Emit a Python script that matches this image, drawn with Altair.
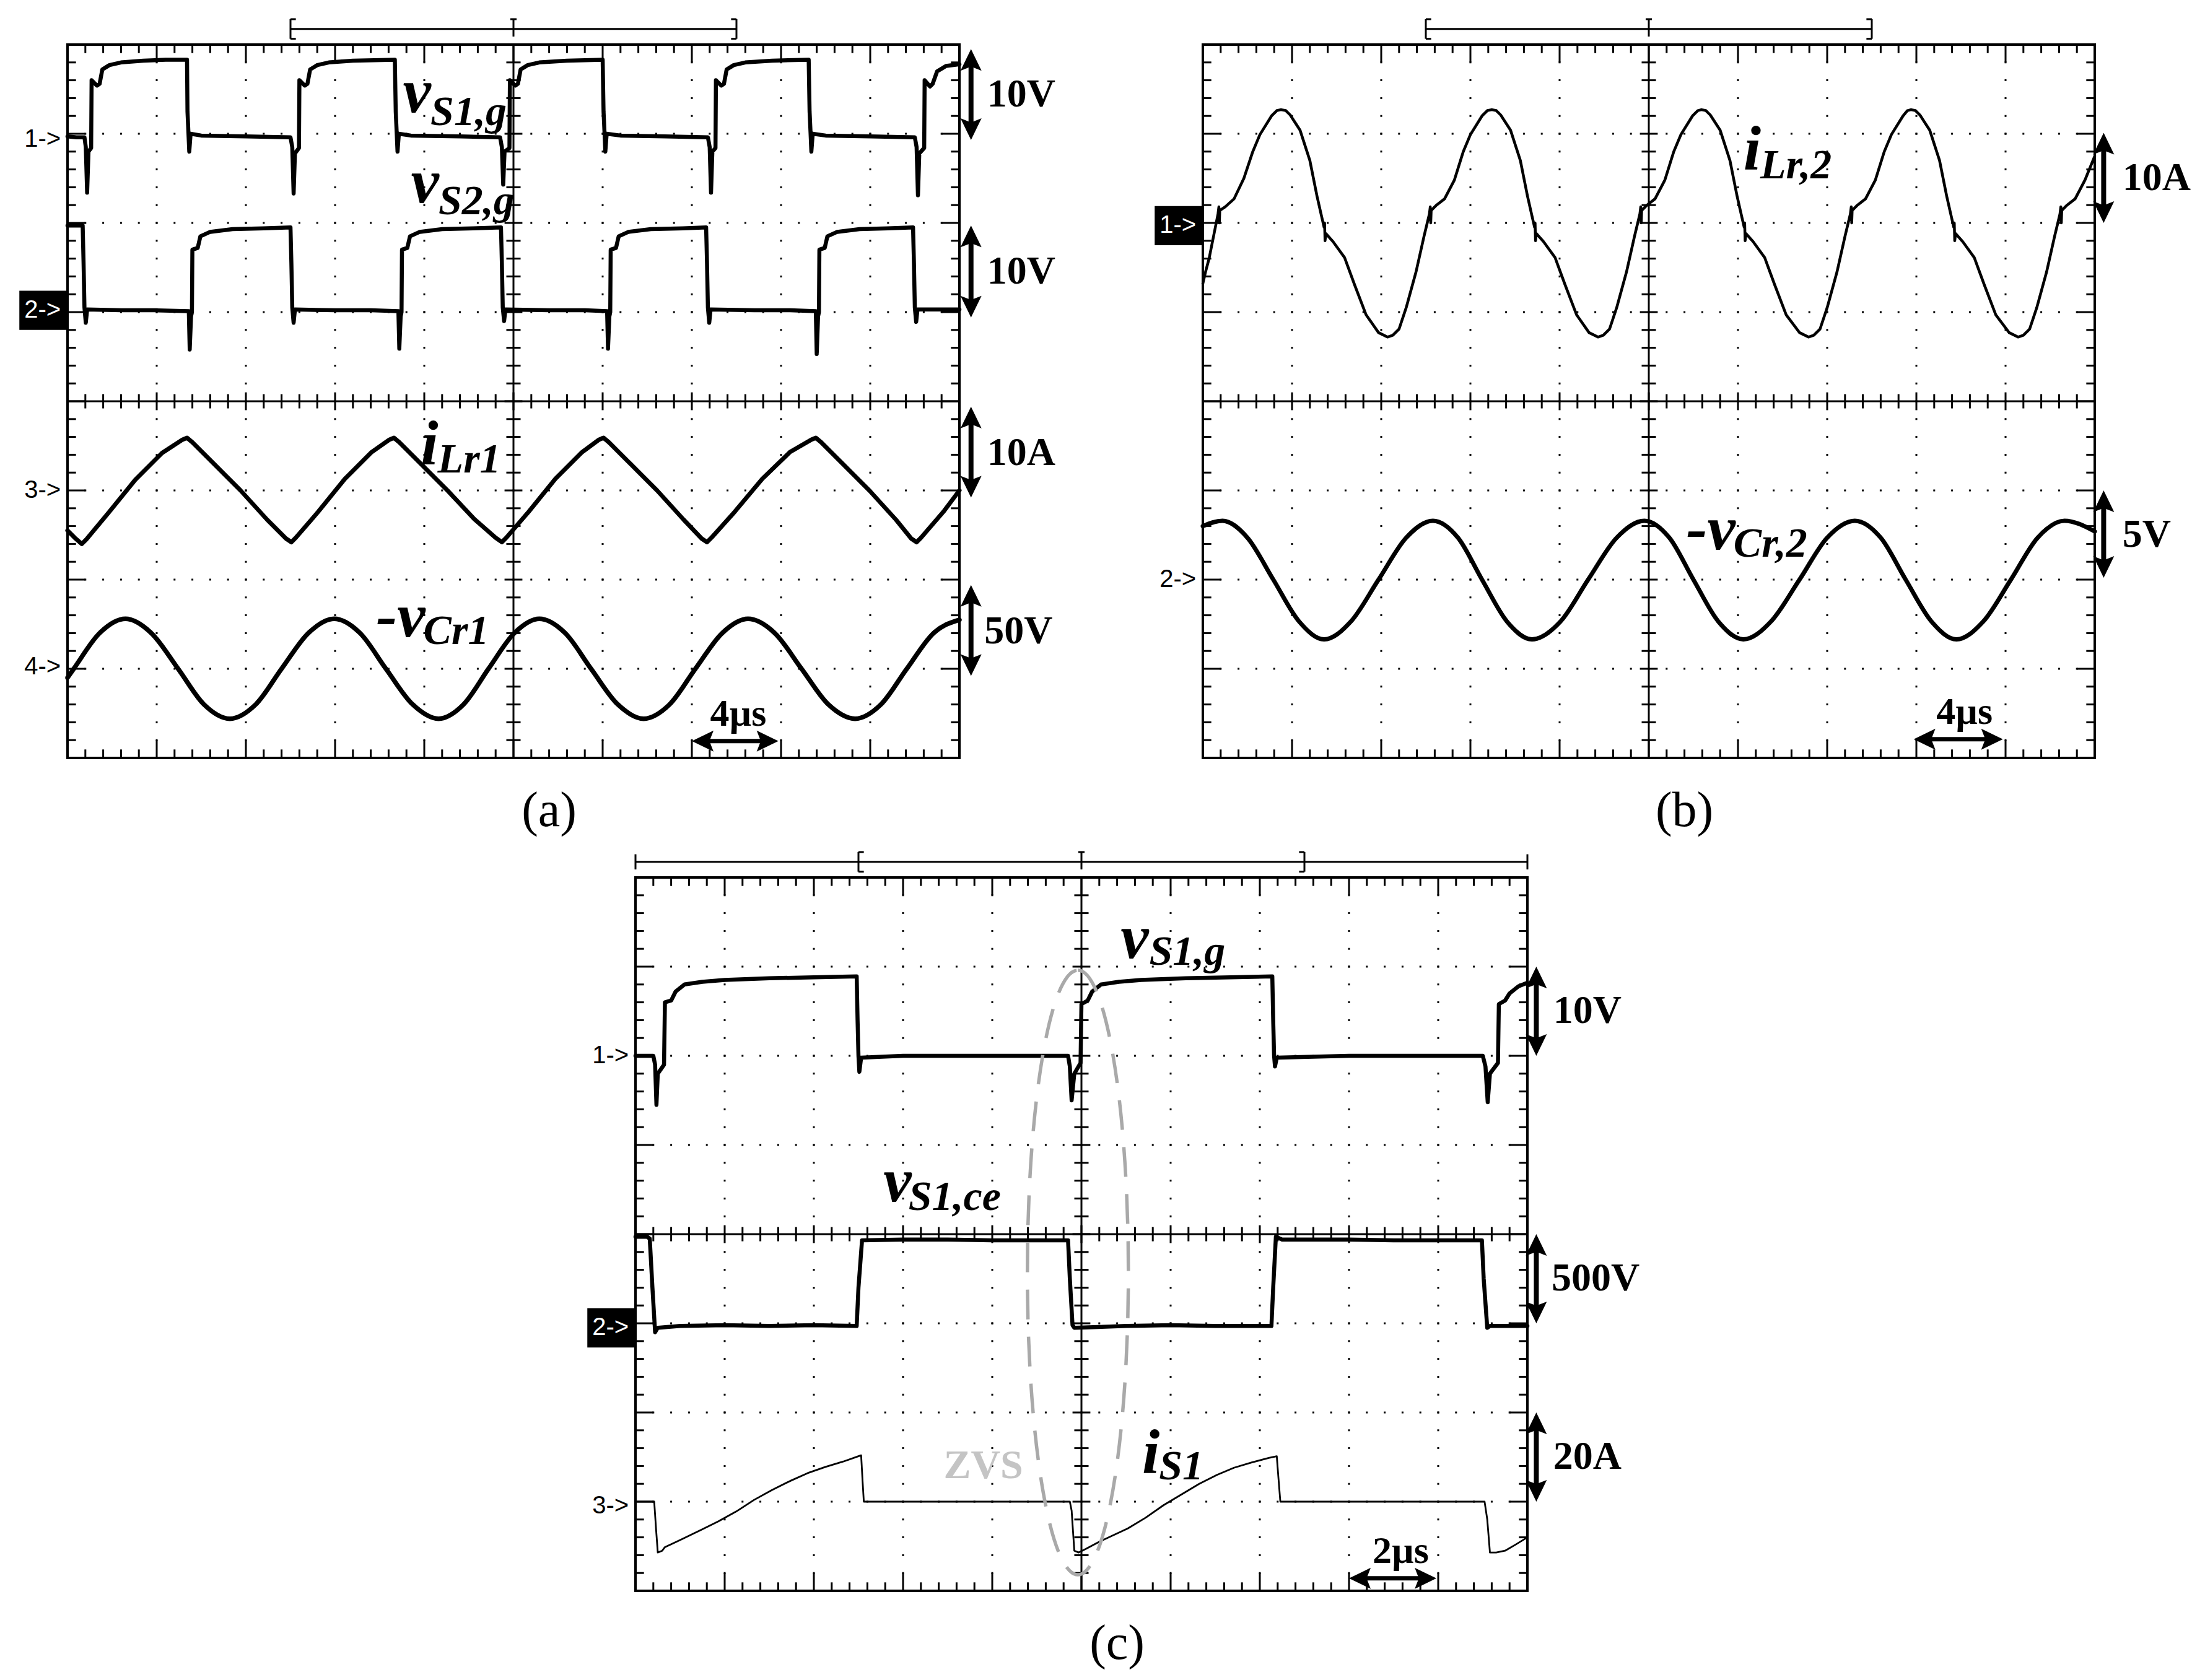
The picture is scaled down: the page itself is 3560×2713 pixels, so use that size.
import altair as alt
import pandas as pd

# ------------------------------------------------------------------ layout
W, H = 3540, 2688          # drawing area in px
DIV = 144.0                # one oscilloscope division in px
ORIGIN_PX = {"a": (101, 64), "b": (1934, 64), "c": (1018, 1409)}
ORIGIN = {k: (x / DIV, y / DIV) for k, (x, y) in ORIGIN_PX.items()}

# ------------------------------------------------------------------ data
# time t in divisions (0..10 from left), level v in divisions (0..8 from top)

# (a) v_S1,g
a_vs1_t = [0.00, 0.10, 0.19, 0.205, 0.22, 0.235, 0.265, 0.27, 0.33, 0.36, 0.39, 0.47, 0.60, 0.85, 1.10, 1.34,
           1.345, 1.355, 1.365, 1.38, 1.50, 2.00, 2.50, 2.52, 2.535, 2.55, 2.595, 2.60, 2.66, 2.69, 2.72, 2.80,
           2.93, 3.20, 3.67, 3.68, 3.69, 3.70, 3.715, 3.85, 4.40, 4.85, 4.87, 4.885, 4.90, 4.955, 4.96, 5.02,
           5.05, 5.08, 5.16, 5.29, 5.60, 6.00, 6.01, 6.02, 6.03, 6.045, 6.20, 6.70, 7.18, 7.20, 7.215, 7.23,
           7.265, 7.27, 7.33, 7.36, 7.39, 7.47, 7.60, 7.90, 8.31, 8.32, 8.33, 8.34, 8.355, 8.50, 9.00, 9.50,
           9.52, 9.535, 9.55, 9.605, 9.61, 9.67, 9.70, 9.75, 9.85, 10.00]
a_vs1_v = [1.03, 1.04, 1.04, 1.15, 1.66, 1.20, 1.16, 0.40, 0.46, 0.44, 0.28, 0.23, 0.20, 0.18, 0.17, 0.17,
           0.75, 0.97, 1.20, 1.00, 1.02, 1.03, 1.04, 1.15, 1.67, 1.22, 1.16, 0.40, 0.46, 0.44, 0.28, 0.23,
           0.20, 0.18, 0.17, 0.75, 0.97, 1.20, 1.00, 1.02, 1.03, 1.04, 1.15, 1.57, 1.20, 1.16, 0.40, 0.46,
           0.44, 0.28, 0.23, 0.20, 0.18, 0.17, 0.75, 0.97, 1.20, 1.00, 1.02, 1.03, 1.04, 1.15, 1.66, 1.20,
           1.16, 0.40, 0.46, 0.44, 0.28, 0.23, 0.20, 0.18, 0.17, 0.75, 0.97, 1.20, 1.00, 1.02, 1.03, 1.04,
           1.15, 1.69, 1.22, 1.16, 0.40, 0.47, 0.44, 0.30, 0.24, 0.22]

# (a) v_S2,g
a_vs2_t = [0.00, 0.17, 0.18, 0.19, 0.205, 0.22, 0.60, 1.00, 1.36, 1.37, 1.385, 1.395, 1.40, 1.46, 1.49, 1.60,
           1.85, 2.20, 2.50, 2.51, 2.52, 2.535, 2.55, 3.00, 3.40, 3.71, 3.72, 3.735, 3.745, 3.75, 3.81, 3.84,
           3.95, 4.20, 4.55, 4.86, 4.87, 4.88, 4.895, 4.91, 5.40, 5.80, 6.05, 6.06, 6.075, 6.085, 6.09, 6.15,
           6.18, 6.29, 6.54, 6.90, 7.16, 7.17, 7.18, 7.195, 7.21, 7.70, 8.10, 8.39, 8.40, 8.415, 8.425, 8.43,
           8.49, 8.52, 8.63, 8.88, 9.20, 9.48, 9.49, 9.50, 9.515, 9.53, 9.80, 10.00]
a_vs2_v = [2.03, 2.03, 2.45, 2.95, 3.12, 2.97, 2.98, 2.98, 2.99, 3.42, 3.05, 3.00, 2.30, 2.28, 2.15, 2.10,
           2.07, 2.06, 2.05, 2.45, 2.95, 3.12, 2.97, 2.98, 2.98, 2.99, 3.41, 3.05, 3.00, 2.30, 2.28, 2.15,
           2.10, 2.07, 2.06, 2.05, 2.45, 2.95, 3.10, 2.97, 2.98, 2.98, 2.99, 3.41, 3.05, 3.00, 2.30, 2.28,
           2.15, 2.10, 2.07, 2.06, 2.05, 2.45, 2.95, 3.12, 2.97, 2.98, 2.98, 2.99, 3.47, 3.05, 3.00, 2.30,
           2.28, 2.15, 2.10, 2.07, 2.06, 2.05, 2.45, 2.95, 3.11, 2.97, 2.97, 2.97]

# (a) i_Lr1
a_ilr_t = [0.00, 0.08, 0.16, 0.21, 0.46, 0.76, 1.06, 1.29, 1.34, 1.40, 1.64, 1.94, 2.24, 2.45, 2.51, 2.56,
           2.81, 3.11, 3.41, 3.61, 3.66, 3.72, 3.96, 4.26, 4.56, 4.80, 4.87, 4.92, 5.17, 5.47, 5.77, 5.96,
           6.01, 6.07, 6.31, 6.61, 6.91, 7.11, 7.17, 7.22, 7.48, 7.79, 8.10, 8.34, 8.39, 8.45, 8.69, 8.99,
           9.29, 9.46, 9.52, 9.57, 9.82, 10.00]
a_ilr_v = [5.45, 5.53, 5.60, 5.55, 5.25, 4.88, 4.58, 4.43, 4.41, 4.46, 4.70, 5.00, 5.33, 5.54, 5.58, 5.53,
           5.24, 4.87, 4.57, 4.43, 4.41, 4.46, 4.70, 5.00, 5.32, 5.53, 5.58, 5.53, 5.24, 4.87, 4.57, 4.43,
           4.41, 4.46, 4.70, 5.00, 5.33, 5.54, 5.58, 5.53, 5.24, 4.87, 4.57, 4.43, 4.41, 4.46, 4.70, 5.00,
           5.33, 5.54, 5.58, 5.53, 5.24, 5.00]

# (a) -v_Cr1
a_vcr_t = [0.00, 0.07, 0.36, 0.65, 0.94, 1.24, 1.53, 1.82, 2.11, 2.40, 2.70, 2.99, 3.28, 3.57, 3.87, 4.16,
           4.44, 4.72, 5.01, 5.29, 5.58, 5.87, 6.17, 6.46, 6.75, 7.04, 7.34, 7.63, 7.93, 8.23, 8.53, 8.83,
           9.12, 9.41, 9.71, 10.00]
a_vcr_v = [7.10, 7.00, 6.60, 6.44, 6.60, 7.00, 7.40, 7.56, 7.40, 7.00, 6.60, 6.44, 6.60, 7.00, 7.40, 7.56,
           7.40, 7.00, 6.60, 6.44, 6.60, 7.00, 7.40, 7.56, 7.40, 7.00, 6.60, 6.44, 6.60, 7.00, 7.40, 7.56,
           7.40, 7.00, 6.60, 6.45]

# (b) i_Lr,2
b_ilr_t = [0.00, 0.03, 0.07, 0.12, 0.17, 0.18, 0.185, 0.19, 0.25, 0.35, 0.46, 0.56, 0.64, 0.77, 0.83, 0.876,
           0.93, 0.98, 1.09, 1.20, 1.28, 1.33, 1.36, 1.365, 1.37, 1.38, 1.46, 1.59, 1.70, 1.83, 1.97, 2.07,
           2.13, 2.20, 2.28, 2.39, 2.48, 2.54, 2.55, 2.555, 2.56, 2.62, 2.71, 2.82, 2.92, 3.00, 3.13, 3.19, 3.24,
           3.29, 3.34, 3.45, 3.56, 3.64, 3.69, 3.72, 3.725, 3.73, 3.74, 3.82, 3.95, 4.06, 4.19, 4.33, 4.43,
           4.49, 4.56, 4.64, 4.75, 4.84, 4.90, 4.91, 4.915, 4.92, 4.98, 5.07, 5.18, 5.28, 5.36, 5.49, 5.55, 5.59,
           5.64, 5.69, 5.80, 5.91, 5.99, 6.04, 6.07, 6.075, 6.08, 6.09, 6.17, 6.30, 6.41, 6.54, 6.69, 6.79,
           6.85, 6.92, 7.00, 7.11, 7.20, 7.26, 7.27, 7.275, 7.28, 7.34, 7.43, 7.54, 7.64, 7.72, 7.85, 7.90, 7.94,
           7.99, 8.04, 8.15, 8.26, 8.34, 8.39, 8.42, 8.425, 8.43, 8.44, 8.52, 8.65, 8.76, 8.89, 9.04, 9.14,
           9.20, 9.27, 9.35, 9.46, 9.55, 9.61, 9.62, 9.625, 9.63, 9.69, 9.78, 9.89, 10.00]
b_ilr_v = [2.68, 2.55, 2.40, 2.15, 1.90, 1.82, 2.00, 1.86, 1.82, 1.73, 1.50, 1.20, 1.01, 0.80, 0.74, 0.73,
           0.74, 0.79, 0.96, 1.30, 1.70, 1.92, 2.05, 2.00, 2.20, 2.12, 2.21, 2.39, 2.69, 3.03, 3.23, 3.28,
           3.26, 3.19, 2.95, 2.55, 2.15, 1.90, 1.82, 2.00, 1.86, 1.80, 1.73, 1.52, 1.20, 1.01, 0.80, 0.74, 0.73,
           0.74, 0.79, 0.96, 1.30, 1.70, 1.92, 2.05, 2.00, 2.20, 2.12, 2.21, 2.39, 2.69, 3.03, 3.23, 3.28,
           3.26, 3.19, 2.95, 2.55, 2.15, 1.90, 1.82, 2.00, 1.86, 1.80, 1.73, 1.52, 1.20, 1.01, 0.80, 0.74, 0.73,
           0.74, 0.79, 0.96, 1.30, 1.70, 1.92, 2.05, 2.00, 2.20, 2.12, 2.21, 2.39, 2.69, 3.03, 3.23, 3.28,
           3.26, 3.19, 2.95, 2.55, 2.15, 1.90, 1.82, 2.00, 1.86, 1.80, 1.73, 1.52, 1.20, 1.01, 0.80, 0.74, 0.73,
           0.74, 0.79, 0.96, 1.30, 1.70, 1.92, 2.05, 2.00, 2.20, 2.12, 2.21, 2.39, 2.69, 3.03, 3.23, 3.28,
           3.26, 3.19, 2.95, 2.55, 2.15, 1.90, 1.82, 2.00, 1.86, 1.80, 1.73, 1.52, 1.25]

# (b) -v_Cr,2
b_vcr_t = [0.00, 0.22, 0.50, 0.79, 1.08, 1.36, 1.66, 1.97, 2.28, 2.58, 2.86, 3.13, 3.41, 3.69, 4.01, 4.32,
           4.64, 4.95, 5.23, 5.50, 5.78, 6.06, 6.37, 6.69, 7.00, 7.31, 7.60, 7.88, 8.17, 8.45, 8.75, 9.06,
           9.36, 9.66, 10.00]
b_vcr_v = [5.40, 5.34, 5.53, 6.00, 6.47, 6.67, 6.47, 6.00, 5.53, 5.34, 5.53, 6.00, 6.47, 6.67, 6.47, 6.00,
           5.53, 5.34, 5.53, 6.00, 6.47, 6.67, 6.47, 6.00, 5.53, 5.34, 5.53, 6.00, 6.47, 6.67, 6.47, 6.00,
           5.53, 5.34, 5.46]

# (c) v_S1,g
c_vsg_t = [0.00, 0.20, 0.22, 0.235, 0.25, 0.32, 0.33, 0.40, 0.45, 0.55, 0.75, 1.00, 1.50, 2.00, 2.48, 2.49,
           2.50, 2.51, 2.53, 3.00, 3.50, 4.00, 4.85, 4.87, 4.89, 4.92, 4.99, 5.00, 5.07, 5.12, 5.22, 5.42,
           5.67, 6.17, 6.67, 7.14, 7.15, 7.16, 7.17, 7.19, 8.00, 9.00, 9.50, 9.53, 9.555, 9.58, 9.67, 9.68,
           9.75, 9.80, 9.90, 10.00]
c_vsg_v = [2.00, 2.00, 2.10, 2.55, 2.20, 2.10, 1.40, 1.38, 1.28, 1.20, 1.17, 1.15, 1.13, 1.12, 1.11, 1.60,
           2.00, 2.18, 2.02, 2.00, 2.00, 2.00, 2.00, 2.12, 2.50, 2.20, 2.08, 1.42, 1.38, 1.28, 1.20, 1.17,
           1.15, 1.13, 1.12, 1.11, 1.60, 2.00, 2.12, 2.02, 2.00, 2.00, 2.00, 2.12, 2.52, 2.20, 2.08, 1.42,
           1.38, 1.30, 1.22, 1.18]

# (c) v_S1,ce
c_vce_t = [0.00, 0.13, 0.16, 0.19, 0.22, 0.25, 0.50, 1.00, 1.50, 2.00, 2.48, 2.50, 2.54, 3.00, 3.50, 4.00,
           4.85, 4.87, 4.90, 4.92, 5.50, 6.00, 6.50, 7.13, 7.15, 7.18, 7.25, 8.00, 8.50, 9.49, 9.51, 9.55,
           9.58, 10.00]
c_vce_v = [4.03, 4.03, 4.05, 4.60, 5.10, 5.05, 5.03, 5.02, 5.03, 5.02, 5.03, 4.60, 4.07, 4.06, 4.06, 4.07,
           4.07, 4.50, 5.02, 5.05, 5.03, 5.02, 5.03, 5.03, 4.60, 4.03, 4.06, 4.06, 4.07, 4.07, 4.50, 5.05,
           5.03, 5.03]

# (c) i_S1
c_is_t = [0.00, 0.21, 0.23, 0.25, 0.30, 0.33, 0.50, 0.73, 0.93, 1.13, 1.33, 1.53, 1.73, 1.93, 2.13, 2.33,
          2.50, 2.53, 2.545, 2.56, 3.00, 3.50, 4.00, 4.50, 4.87, 4.89, 4.92, 4.97, 5.05, 5.20, 5.52, 5.72,
          5.92, 6.12, 6.32, 6.52, 6.71, 6.91, 7.10, 7.19, 7.21, 7.23, 7.60, 8.00, 8.50, 9.00, 9.52, 9.55,
          9.58, 9.65, 9.75, 9.87, 10.00]
c_is_v = [7.00, 7.00, 7.30, 7.57, 7.55, 7.51, 7.43, 7.32, 7.22, 7.11, 6.98, 6.87, 6.77, 6.68, 6.61, 6.55,
          6.49, 6.48, 6.75, 7.00, 7.00, 7.00, 7.00, 7.00, 7.00, 7.10, 7.55, 7.57, 7.53, 7.45, 7.30, 7.18,
          7.04, 6.92, 6.80, 6.70, 6.62, 6.56, 6.51, 6.49, 6.75, 7.00, 7.00, 7.00, 7.00, 7.00, 7.00, 7.20,
          7.57, 7.57, 7.55, 7.48, 7.40]

# trace catalogue: panel, name, t, v, stroke width, smooth?
TRACES = [
    ("a", "vS1g", a_vs1_t, a_vs1_v, 6.5, False),
    ("a", "vS2g", a_vs2_t, a_vs2_v, 6.5, False),
    ("a", "iLr1", a_ilr_t, a_ilr_v, 7.0, False),
    ("a", "vCr1", a_vcr_t, a_vcr_v, 7.5, True),
    ("b", "iLr2", b_ilr_t, b_ilr_v, 4.5, False),
    ("b", "vCr2", b_vcr_t, b_vcr_v, 7.0, True),
    ("c", "vS1g", c_vsg_t, c_vsg_v, 6.5, False),
    ("c", "vS1ce", c_vce_t, c_vce_v, 6.5, False),
    ("c", "iS1", c_is_t, c_is_v, 2.8, False),
]

# labels (panel, text, t_left, v_baseline)
MATH_MAIN = [("a", "v", 3.76, 0.76), ("a", "v", 3.85, 1.77), ("a", "i", 3.96, 4.71), ("a", "-v", 3.46, 6.64),
             ("b", "i", 6.06, 1.40), ("b", "-v", 5.42, 5.66),
             ("c", "v", 5.44, 0.90), ("c", "v", 2.78, 3.63), ("c", "i", 5.68, 6.68)]
MATH_SUB = [("a", "S1,g", 4.07, 0.90), ("a", "S2,g", 4.16, 1.90), ("a", "Lr1", 4.15, 4.80), ("a", "Cr1", 3.99, 6.72),
            ("b", "Lr,2", 6.25, 1.50), ("b", "Cr,2", 5.95, 5.74),
            ("c", "S1,g", 5.76, 0.98), ("c", "S1,ce", 3.06, 3.73), ("c", "S1", 5.87, 6.75)]
UNITS = [("a", "10V", 10.31, 0.56), ("a", "10V", 10.31, 2.55), ("a", "10A", 10.31, 4.58), ("a", "50V", 10.28, 6.58),
         ("b", "10A", 10.31, 1.50), ("b", "5V", 10.31, 5.50),
         ("c", "10V", 10.29, 1.50), ("c", "500V", 10.27, 4.50), ("c", "20A", 10.29, 6.50)]
TIME_TXT = [("a", "4µs", 7.52, 7.64), ("b", "4µs", 8.54, 7.62), ("c", "2µs", 8.58, 7.69)]
PANEL_TXT = [("a", "(a)", 5.4, 8.6), ("b", "(b)", 5.4, 8.6), ("c", "(c)", 5.4, 8.6)]
MARK_PLAIN = [("a", "1->", -0.075, 1.06), ("a", "3->", -0.075, 5.0), ("a", "4->", -0.075, 6.98),
              ("b", "2->", -0.075, 6.0), ("c", "1->", -0.075, 2.0), ("c", "3->", -0.075, 7.05)]
MARK_BOX = [("a", "2->", -0.075, 2.98), ("b", "1->", -0.075, 2.03), ("c", "2->", -0.075, 5.05)]
ZVS_TXT = [("c", "ZVS", 3.9, 6.6)]

# scale arrows: vertical (panel, t, v_top, v_bottom), horizontal (panel, v, t_left, t_right)
V_ARROWS = [("a", 10.13, 0.05, 1.07), ("a", 10.13, 2.03, 3.06), ("a", 10.13, 4.06, 5.08), ("a", 10.13, 6.06, 7.08),
            ("b", 10.10, 0.99, 2.00), ("b", 10.10, 5.00, 5.98),
            ("c", 10.10, 1.00, 2.00), ("c", 10.10, 4.00, 5.00), ("c", 10.10, 6.00, 7.00)]
H_ARROWS = [("a", 7.81, 7.00, 7.97), ("b", 7.79, 7.97, 8.97), ("c", 7.86, 8.00, 8.98)]

# ZVS ellipse centre (panel c, divisions) and half-height
ELL = [("c", 4.96, 4.43)]
ELL_HALF_H = 3.39

# ------------------------------------------------------------------ tables
def gxy(p, t, v):
    ox, oy = ORIGIN[p]
    return ox + t, oy + v


rows = []
for p, name, ts, vs, sw, smooth in TRACES:
    for i, (t, v) in enumerate(zip(ts, vs)):
        gx, gy = gxy(p, t, v)
        rows.append({"name": p + name, "i": i, "gx": gx, "gy": gy, "sw": sw, "smooth": smooth})
trace_df = pd.DataFrame(rows)


def text_df(items):
    out = []
    for p, txt, t, v in items:
        gx, gy = gxy(p, t, v)
        out.append({"gx": gx, "gy": gy, "txt": txt})
    return pd.DataFrame(out)


solid, dotted, frames, boxes, heads = [], [], [], [], []


def seg(lst, p, t1, v1, t2, v2, sw=3.0):
    x1, y1 = gxy(p, t1, v1)
    x2, y2 = gxy(p, t2, v2)
    lst.append({"gx": x1, "gy": y1, "gx2": x2, "gy2": y2, "sw": sw})


for p in ["a", "b", "c"]:
    seg(frames, p, 0, 0, 10, 8)
    for j in range(1, 10):
        if j != 5:
            seg(dotted, p, j, 0, j, 8)
    for j in range(1, 8):
        if j != 4:
            seg(dotted, p, 0, j, 10, j)
    seg(solid, p, 5, 0, 5, 8)
    seg(solid, p, 0, 4, 10, 4)
    for k in range(1, 50):
        t = k * 0.2
        major = k % 5 == 0
        L = 0.2 if major else 0.095
        h = 0.1 if major else 0.08
        seg(solid, p, t, 0, t, L)
        seg(solid, p, t, 8, t, 8 - L)
        seg(solid, p, t, 4 - h, t, 4 + h)
    for k in range(1, 40):
        v = k * 0.2
        major = k % 5 == 0
        L = 0.2 if major else 0.095
        h = 0.1 if major else 0.08
        seg(solid, p, 0, v, L, v)
        seg(solid, p, 10, v, 10 - L, v)
        seg(solid, p, 5 - h, v, 5 + h, v)
    # trigger / memory bracket above the screen
    yl = -0.175
    if p == "c":
        seg(solid, p, 0, yl, 10, yl)
        seg(solid, p, 0, -0.26, 0, -0.09)
        seg(solid, p, 10, -0.26, 10, -0.09)
    else:
        seg(solid, p, 2.5, yl, 7.5, yl)
    seg(solid, p, 2.5, -0.285, 2.5, -0.065)
    seg(solid, p, 2.5, -0.285, 2.56, -0.285)
    seg(solid, p, 2.5, -0.065, 2.56, -0.065)
    seg(solid, p, 7.5, -0.285, 7.5, -0.065)
    seg(solid, p, 7.44, -0.285, 7.5, -0.285)
    seg(solid, p, 7.44, -0.065, 7.5, -0.065)
    seg(solid, p, 5.0, -0.285, 5.0, -0.09)
    seg(solid, p, 4.965, -0.285, 5.035, -0.285)

HEAD_R = 20.0 / DIV   # tip-to-centre distance of the arrow head symbol
for p, t, v1, v2 in V_ARROWS:
    seg(solid, p, t, v1 + 0.12, t, v2 - 0.12, 8.0)
    for v, ang in [(v1 + HEAD_R, 0), (v2 - HEAD_R, 180)]:
        gx, gy = gxy(p, t, v)
        heads.append({"gx": gx, "gy": gy, "ang": ang})
for p, v, t1, t2 in H_ARROWS:
    seg(solid, p, t1 + 0.12, v, t2 - 0.12, v, 7.0)
    for t, ang in [(t1 + HEAD_R, 270), (t2 - HEAD_R, 90)]:
        gx, gy = gxy(p, t, v)
        heads.append({"gx": gx, "gy": gy, "ang": ang})

for p, txt, t, v in MARK_BOX:
    seg(boxes, p, -0.54, v - 0.22, 0.0, v + 0.22)

ell_rows = []
for p, t, v in ELL:
    gx, gy = gxy(p, t, v)
    ell_rows.append({"gx": gx, "gy": gy})

solid_df = pd.DataFrame(solid)
dotted_df = pd.DataFrame(dotted)
frame_df = pd.DataFrame(frames)
box_df = pd.DataFrame(boxes)
head_df = pd.DataFrame(heads)
ell_df = pd.DataFrame(ell_rows)

# ------------------------------------------------------------------ chart
xs = alt.Scale(domain=[0, W / DIV], nice=False, zero=False)
ys = alt.Scale(domain=[0, H / DIV], nice=False, zero=False, reverse=True)
X = alt.X("gx:Q", scale=xs, axis=None)
Y = alt.Y("gy:Q", scale=ys, axis=None)
SERIF = "Liberation Serif, Times New Roman, serif"
SANS = "Liberation Sans, Arial, sans-serif"

HEAD_PATH = "M0,-1L0.85,0.75L0,0.42L-0.85,0.75Z"
ELL_PATH = ("M0,-1C0.0922,-1,0.167,-0.5523,0.167,0C0.167,0.5523,0.0922,1,0,1"
            "C-0.0922,1,-0.167,0.5523,-0.167,0C-0.167,-0.5523,-0.0922,-1,0,-1Z")
ell_size = (2 * ELL_HALF_H * DIV) ** 2

dotted_layer = alt.Chart(dotted_df).mark_rule(
    color="black", strokeWidth=3, strokeDash=[3, 25.8], strokeDashOffset=1.5
).encode(x=X, y=Y, x2="gx2:Q", y2="gy2:Q")

solid_layer = alt.Chart(solid_df).mark_rule(color="black").encode(
    x=X, y=Y, x2="gx2:Q", y2="gy2:Q", strokeWidth=alt.StrokeWidth("sw:Q", scale=None)
)

frame_layer = alt.Chart(frame_df).mark_rect(
    fillOpacity=0, stroke="black", strokeWidth=4
).encode(x=X, y=Y, x2="gx2:Q", y2="gy2:Q")

line_sharp = alt.Chart(trace_df[~trace_df["smooth"]]).mark_line(
    color="black", strokeJoin="round", strokeCap="round"
).encode(x=X, y=Y, detail="name:N", order="i:Q",
         strokeWidth=alt.StrokeWidth("sw:Q", scale=None))

line_smooth = alt.Chart(trace_df[trace_df["smooth"]]).mark_line(
    color="black", strokeJoin="round", strokeCap="round", interpolate="monotone"
).encode(x=X, y=Y, detail="name:N", order="i:Q",
         strokeWidth=alt.StrokeWidth("sw:Q", scale=None))

head_layer = alt.Chart(head_df).mark_point(
    shape=HEAD_PATH, filled=True, color="black", size=(2 * 20) ** 2, opacity=1
).encode(x=X, y=Y, angle=alt.Angle("ang:Q", scale=None))

ell_layer = alt.Chart(ell_df).mark_point(
    shape=ELL_PATH, filled=False, color="#a9a9a9", strokeWidth=5.5, strokeDash=[48, 28],
    size=ell_size, opacity=1
).encode(x=X, y=Y)

box_layer = alt.Chart(box_df).mark_rect(color="black").encode(x=X, y=Y, x2="gx2:Q", y2="gy2:Q")


def txt_layer(items, **kw):
    return alt.Chart(text_df(items)).mark_text(**kw).encode(x=X, y=Y, text="txt:N")


layers = [
    dotted_layer, solid_layer, frame_layer, line_sharp, line_smooth, ell_layer,
    head_layer, box_layer,
    txt_layer(MATH_MAIN, font=SERIF, fontSize=102, fontWeight="bold", fontStyle="italic",
              align="left", baseline="alphabetic", color="black"),
    txt_layer(MATH_SUB, font=SERIF, fontSize=68, fontWeight="bold", fontStyle="italic",
              align="left", baseline="alphabetic", color="black"),
    txt_layer(UNITS, font=SERIF, fontSize=64, fontWeight="bold",
              align="left", baseline="middle", color="black"),
    txt_layer(TIME_TXT, font=SERIF, fontSize=62, fontWeight="bold",
              align="center", baseline="alphabetic", color="black"),
    txt_layer(PANEL_TXT, font=SERIF, fontSize=80,
              align="center", baseline="middle", color="black"),
    txt_layer(MARK_PLAIN, font=SANS, fontSize=40,
              align="right", baseline="middle", color="black"),
    txt_layer(MARK_BOX, font=SANS, fontSize=40,
              align="right", baseline="middle", color="white"),
    txt_layer(ZVS_TXT, font=SERIF, fontSize=66, fontWeight="bold",
              align="center", baseline="middle", color="#c4c4c4"),
]

chart = alt.layer(*layers).properties(
    width=W, height=H, autosize=alt.AutoSizeParams(type="none"), padding=0
).configure_view(stroke=None)

chart.save("out.html", embed_options={"renderer": "svg", "actions": False})
